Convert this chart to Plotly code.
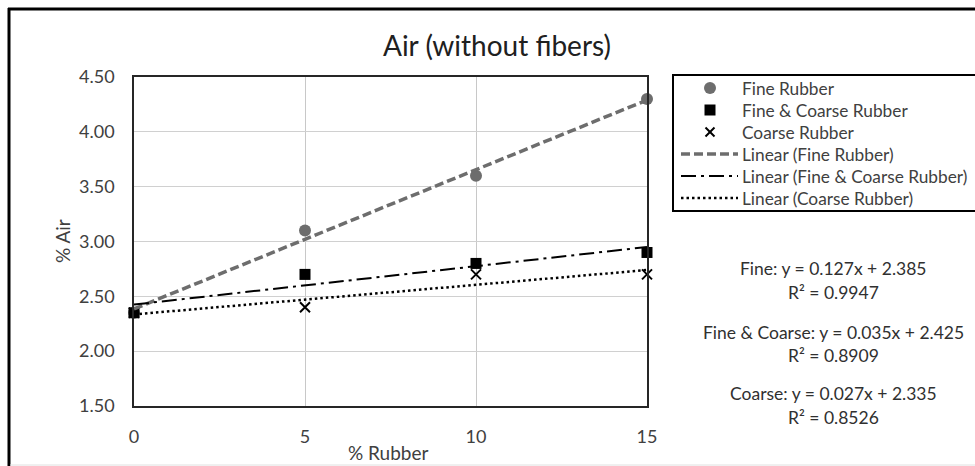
import numpy as np
import plotly.graph_objects as go

# % rubber replacement levels
rubber_pct = [0, 5, 10, 15]

# measured air content (%) per rubber type
fine_air = [2.35, 3.10, 3.60, 4.30]
fine_coarse_air = [2.35, 2.70, 2.80, 2.90]
coarse_air = [2.35, 2.40, 2.70, 2.70]

y_ticks = [1.5, 2.0, 2.5, 3.0, 3.5, 4.0, 4.5]
x_ticks = [0, 5, 10, 15]

FONT = "Lato"
TEXT = "#404040"

# plot-area geometry in pixels (used to convert page positions to paper coords)
W, H = 975, 466
L, R, T, B = 134, 647, 77, 406


def px(x):
    return (x - L) / (R - L)


def py(y):
    return (B - y) / (B - T)


def fit(x, y):
    slope, intercept = np.polyfit(x, y, 1)
    pred = slope * np.array(x) + intercept
    ss_res = np.sum((np.array(y) - pred) ** 2)
    ss_tot = np.sum((np.array(y) - np.mean(y)) ** 2)
    return slope, intercept, 1 - ss_res / ss_tot


GREY = "#6d6d6d"
fig = go.Figure()

# data points
fig.add_trace(go.Scatter(x=rubber_pct, y=fine_air, mode="markers", name="Fine Rubber",
                         cliponaxis=False, marker=dict(symbol="circle", size=12, color=GREY)))
fig.add_trace(go.Scatter(x=rubber_pct, y=fine_coarse_air, mode="markers", name="Fine & Coarse Rubber",
                         cliponaxis=False, marker=dict(symbol="square", size=11, color="black")))
fig.add_trace(go.Scatter(x=rubber_pct, y=coarse_air, mode="markers", name="Coarse Rubber",
                         cliponaxis=False,
                         marker=dict(symbol="x-thin", size=10, color="black",
                                     line=dict(width=2, color="black"))))

# linear trendlines
series = [
    ("Fine", "Linear (Fine Rubber)", fine_air, dict(color=GREY, width=3.5, dash="9px,4px")),
    ("Fine & Coarse", "Linear (Fine & Coarse Rubber)", fine_coarse_air,
     dict(color="black", width=2, dash="15px,5px,3px,5px")),
    ("Coarse", "Linear (Coarse Rubber)", coarse_air, dict(color="black", width=2.5, dash="2.5px,3px")),
]
xs = np.array([rubber_pct[0], rubber_pct[-1]], dtype=float)
eq_lines = []
for label, name, ys, line in series:
    m, c, r2 = fit(rubber_pct, ys)
    fig.add_trace(go.Scatter(x=xs, y=m * xs + c, mode="lines", name=name, line=line,
                             cliponaxis=False))
    eq_lines.append((label, m, c, r2, name, line))

fig.update_layout(
    width=W, height=H,
    margin=dict(l=L, r=W - R, t=T, b=H - B),
    paper_bgcolor="white", plot_bgcolor="white",
    font=dict(family=FONT, size=15, color=TEXT),
    showlegend=False,
    xaxis=dict(range=[0, 15], tickvals=x_ticks, showgrid=True, gridcolor="#c8c8c8", gridwidth=1,
               zeroline=False, showline=True, mirror=True, linecolor="#262626", linewidth=1.5,
               ticks="outside", ticklen=14, tickcolor="rgba(0,0,0,0)",
               tickfont=dict(size=18, family=FONT, color=TEXT)),
    yaxis=dict(range=[1.5, 4.5], tickvals=y_ticks, tickformat=".2f", showgrid=True,
               gridcolor="#d0d0d0", gridwidth=1, zeroline=False, showline=True, mirror=True,
               linecolor="#262626", linewidth=1.5, ticks="outside", ticklen=14,
               tickcolor="rgba(0,0,0,0)", tickfont=dict(size=18, family=FONT, color=TEXT)),
)

annotations = [
    dict(text="Air (without fibers)", x=px(497), y=py(45), font=dict(size=28, color="#202020")),
    dict(text="% Air", x=px(62), y=py(241), textangle=-90, font=dict(size=19, color=TEXT)),
    dict(text="% Rubber", x=px(388), y=py(452), font=dict(size=19, color=TEXT)),
]
eq_y = [(268, 292), (332, 355), (393, 417)]
for (label, m, c, r2, _, _), (y1, y2) in zip(eq_lines, eq_y):
    annotations.append(dict(text=f"{label}: y = {m:.3f}x + {c:.3f}", x=px(833), y=py(y1),
                            font=dict(size=17.5, color="#303030")))
    annotations.append(dict(text=f"R² = {r2:.4f}", x=px(833), y=py(y2),
                            font=dict(size=17.5, color="#303030")))

shapes = []

# legend: frame, symbols and labels
LEG_L, LEG_T, ROW0, ROW_H = 673, 75, 88, 22
LEG_B = ROW0 + 5 * ROW_H + 13
shapes.append(dict(type="rect", x0=px(LEG_L), x1=px(1000), y0=py(LEG_T), y1=py(LEG_B),
                   line=dict(color="black", width=2), fillcolor="white", layer="above"))
MX, TX = 710, 740
legend_names = [fig.data[i].name for i in range(6)]
rows = [ROW0 + i * ROW_H for i in range(6)]
# circle
shapes.append(dict(type="circle", x0=px(MX - 6), x1=px(MX + 6), y0=py(rows[0] - 6), y1=py(rows[0] + 6),
                   line=dict(width=0), fillcolor=GREY, layer="above"))
# square
shapes.append(dict(type="rect", x0=px(MX - 5.5), x1=px(MX + 5.5), y0=py(rows[1] - 5.5),
                   y1=py(rows[1] + 5.5), line=dict(width=0), fillcolor="black", layer="above"))
# cross
for d in (1, -1):
    shapes.append(dict(type="line", x0=px(MX - 4.5), x1=px(MX + 4.5), y0=py(rows[2] - 4.5 * d),
                       y1=py(rows[2] + 4.5 * d), line=dict(color="black", width=2), layer="above"))
# trendline samples
for i, (_, _, _, _, _, line) in enumerate(eq_lines):
    shapes.append(dict(type="line", x0=px(681), x1=px(738), y0=py(rows[3 + i]), y1=py(rows[3 + i]),
                       line=line, layer="above"))
for name, yy in zip(legend_names, rows):
    annotations.append(dict(text=name, x=px(TX), y=py(yy), xanchor="left",
                            font=dict(size=17.3, color=TEXT)))

for a in annotations:
    a.setdefault("xanchor", "center")
    a.update(xref="paper", yref="paper", showarrow=False, yanchor="middle")

# outer chart frame
shapes.append(dict(type="line", x0=px(9), x1=px(9), y0=py(8), y1=py(470),
                   line=dict(color="black", width=3)))
shapes.append(dict(type="line", x0=px(8), x1=px(990), y0=py(9), y1=py(9),
                   line=dict(color="black", width=3)))
shapes.append(dict(type="line", x0=px(10), x1=px(990), y0=py(465), y1=py(465),
                   line=dict(color="#e0e0e0", width=1)))
for s in shapes:
    s.update(xref="paper", yref="paper")

fig.update_layout(annotations=annotations, shapes=shapes)

fig.write_html("out.html")
